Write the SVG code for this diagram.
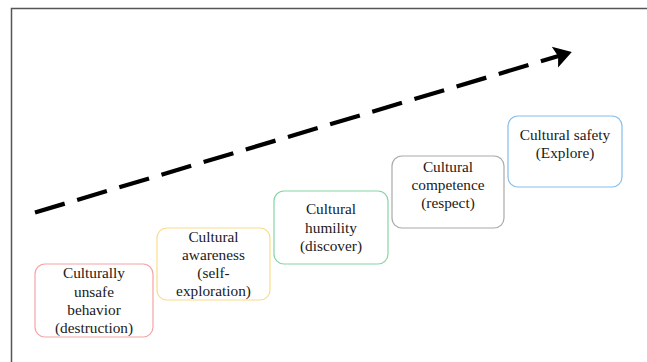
<svg xmlns="http://www.w3.org/2000/svg" width="647" height="362" viewBox="0 0 647 362">
<style>
.box{fill:#fff;stroke-width:1.2}
.t{font-family:"Liberation Serif","Times New Roman",serif;font-size:15.3px;fill:#1a1a1a;text-anchor:middle}
.frame{stroke:#555;stroke-width:1.5;fill:none}
</style>
<defs>
<marker id="ah" markerWidth="6" markerHeight="6" refX="3" refY="3" orient="auto" markerUnits="strokeWidth">
<path d="M0,0.4 L4.2,3 L0,5.6 L0.8,3 Z" fill="#000"/>
</marker>
</defs>
<rect width="647" height="362" fill="#fff"/>
<path class="frame" d="M11.5,362 V8.5 H647"/>
<g id="connectors">
<line x1="35" y1="212.5" x2="567" y2="53.5" stroke="#000" stroke-width="4.2" stroke-dasharray="31,13" marker-end="url(#ah)"/>
</g>
<g id="node1">
<rect class="box" x="35" y="264" width="118" height="73" rx="10" stroke="#f5a3a3"/>
<text class="t" x="94" y="278">Culturally</text>
<text class="t" x="94" y="297">unsafe</text>
<text class="t" x="94" y="315">behavior</text>
<text class="t" x="94" y="333">(destruction)</text>
</g>
<g id="node2">
<rect class="box" x="157" y="228" width="113" height="72" rx="10" stroke="#fbdc8c"/>
<text class="t" x="213.5" y="242">Cultural</text>
<text class="t" x="213.5" y="260">awareness</text>
<text class="t" x="213.5" y="278">(self-</text>
<text class="t" x="213.5" y="296">exploration)</text>
</g>
<g id="node3">
<rect class="box" x="274" y="191" width="114" height="73" rx="10" stroke="#86d5a4"/>
<text class="t" x="331" y="214">Cultural</text>
<text class="t" x="331" y="233">humility</text>
<text class="t" x="331" y="251">(discover)</text>
</g>
<g id="node4">
<rect class="box" x="392" y="156" width="112" height="72" rx="10" stroke="#aaaaaa"/>
<text class="t" x="448" y="172">Cultural</text>
<text class="t" x="448" y="190">competence</text>
<text class="t" x="448" y="208">(respect)</text>
</g>
<g id="node5">
<rect class="box" x="508" y="116" width="114" height="71" rx="10" stroke="#86bde9"/>
<text class="t" x="565" y="140">Cultural safety</text>
<text class="t" x="565" y="158">(Explore)</text>
</g>
</svg>
